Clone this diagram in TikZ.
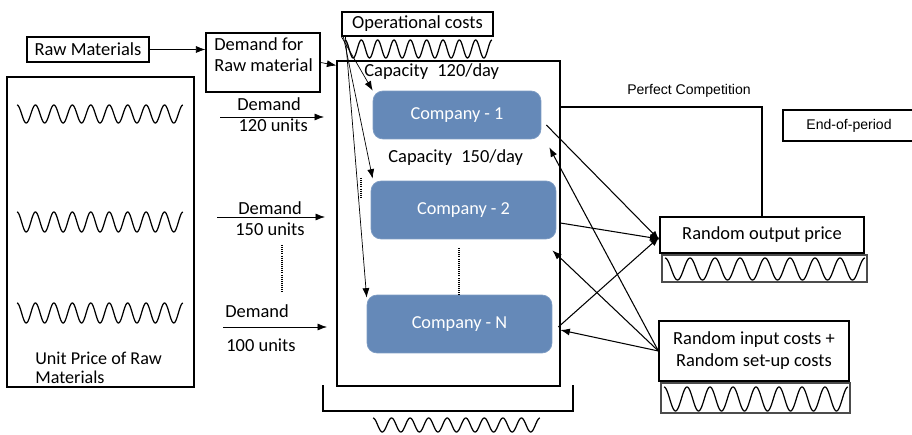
\documentclass[tikz,border=0pt]{standalone}
\usepackage{fontspec}
\setmainfont{Carlito}
\newfontfamily\arialish{Liberation Sans}
\usetikzlibrary{positioning,calc,arrows.meta}

\definecolor{compblue}{RGB}{101,137,184}
\tikzset{
  box/.style={draw, line width=0.7pt, inner sep=0pt},
  company/.style={draw=compblue!85!white, fill=compblue, rounded corners=0.2cm,
    text=white, inner sep=0pt, font=\fontsize{10.4}{12}\selectfont},
  wavebox/.style={draw=gray!60!black, line width=0.9pt},
  thinarr/.style={->, line width=0.4pt},
  arr/.style={->, line width=0.6pt},
  dots/.style={line width=1pt, dash pattern=on 0.6pt off 0.6pt}
}

% wavy line: x-start, x-end, centre y, amplitude, periods
\newcommand{\wavy}[5]{%
  \draw[line width=0.7pt, domain=0:1, samples=240, variable=\t]
    plot ({#1+\t*(#2-#1)}, {#3-#4*cos(360*#5*\t)});}

\begin{document}
\begin{tikzpicture}[x=0.02cm, y=-0.02cm, >={Latex[length=1.9mm,width=1.4mm]},
    font=\fontsize{10.5}{12}\selectfont]
  \useasboundingbox (0,0) rectangle (912,435);

  % raw materials side
  \node[box, minimum width=2.44cm, minimum height=0.5cm] (rawmat) at (88,49.5) {Raw Materials};
  \node[box, minimum width=2.28cm, minimum height=1.18cm] (demraw) at (263,62.5) {};
  \node[anchor=north west, align=left, inner sep=0pt] (demrawtxt) at (214,37) {Demand for\\Raw material};
  \draw[thinarr] (rawmat.east) -- (rawmat.east -| demraw.west);

  \node[box, minimum width=3.74cm, minimum height=6.2cm] (pricebox) at (100.5,232) {};
  \wavy{17}{183}{114}{9}{9}
  \wavy{17}{183}{222}{10}{9}
  \wavy{17}{183}{313}{10}{9}
  \node[anchor=north west, align=left, inner sep=0pt, font=\fontsize{10.3}{10.6}\selectfont]
    (pricetxt) at (35,352) {Unit Price of Raw\\Materials};

  % demand per company
  \coordinate (d1s) at (220,117);
  \coordinate (d1e) at (324,117);
  \draw[thinarr] (d1s) -- (d1e);
  \node[align=center] (d1txt) at (269,115) {Demand\\\ \ 120 units};
  \coordinate (d2s) at (217,217);
  \coordinate (d2e) at (325,217);
  \draw[thinarr] (d2s) -- (d2e);
  \node[align=center] (d2txt) at (270,219) {Demand\\150 units};
  \draw[dots] (282,245) -- (282,292);
  \coordinate (d3s) at (223,327);
  \coordinate (d3e) at (327,327);
  \draw[thinarr] (d3s) -- (d3e);
  \node[anchor=west, inner sep=0pt] (d3txt) at (225,311) {Demand};
  \node[anchor=west, inner sep=0pt] (d3units) at (226,345) {100 units};

  % companies
  \node[box, minimum width=4.46cm, minimum height=6.5cm] (mainbox) at (448.5,223.5) {};
  \draw[thinarr] (demraw.east) -- ([yshift=-0.1cm]mainbox.north west);
  \node[box, minimum width=3.02cm, minimum height=0.48cm] (opcost) at (417.5,24) {Operational costs};
  \wavy{345}{492}{49}{9}{9}
  \draw[line width=0.7pt] (323,385) |- (573,411) -- (573,385);
  \wavy{373}{540}{425}{7}{9}

  \node[anchor=west, inner sep=0pt] (cap1) at (364,72) {Capacity\enspace120/day};
  \node[company, minimum width=3.36cm, minimum height=0.96cm] (c1) at (457,115) {Company - 1};
  \node[anchor=west, inner sep=0pt] (cap2) at (388,158) {Capacity\enspace150/day};
  \node[company, minimum width=3.7cm, minimum height=1.16cm] (c2) at (463.5,210) {Company - 2};
  \node[company, minimum width=3.7cm, minimum height=1.16cm] (cN) at (459.5,324) {Company - N};
  \draw[dots] (459,248) -- (459,295);
  \draw[dots] (361,178) -- (361,198);

  \draw[thinarr] (opcost.south west) -- (c1.north west);
  \draw[thinarr] ([xshift=0.04cm]opcost.south west) -- ([xshift=0.04cm,yshift=0.04cm]c2.north west);
  \draw[thinarr] ([xshift=0.08cm]opcost.south west) -- ([yshift=-0.06cm]cN.north west);

  % market side
  \node[font=\arialish\fontsize{8}{10}\selectfont] (pctxt) at (689,91) {Perfect Competition};
  \node[box, minimum width=2.64cm, minimum height=0.62cm, font=\arialish\fontsize{8}{10}\selectfont]
    (eop) at (849,125.5) {End-of-period};

  \node[box, minimum width=4.08cm, minimum height=0.72cm, font=\fontsize{10.5}{12}\selectfont]
    (outprice) at (762,235) {Random output price};
  \draw[wavebox] (662,255) rectangle (867,282);
  \wavy{665}{865}{269}{11}{8}

  \node[box, minimum width=3.8cm, minimum height=1.2cm, align=center, font=\fontsize{10.5}{12.5}\selectfont]
    (incost) at (754,351) {Random input costs +\\Random set-up costs};
  \draw[wavebox] (661,383) rectangle (850,413);
  \wavy{664}{848}{399}{12}{8}

  \coordinate (pcstart) at (560,107);
  \draw[line width=0.7pt] (pcstart) -| (outprice.north);

  \draw[arr] ($(c1.east)+(5,10)$) -- ($(outprice.west)+(0,5)$);
  \draw[arr] ($(c2.east)+(4,13)$) -- ($(outprice.west)+(0,4)$);
  \draw[arr] ($(cN.east)+(6,3)$) -- ($(outprice.west)+(0,2)$);

  \draw[arr] (incost.west) -- ($(c1.south east)+(8,8)$);
  \draw[arr] (incost.west) -- ($(c2.south east)+(-4,11)$);
  \draw[arr] (incost.west) -- ($(cN.east)+(8,6)$);
\end{tikzpicture}
\end{document}
